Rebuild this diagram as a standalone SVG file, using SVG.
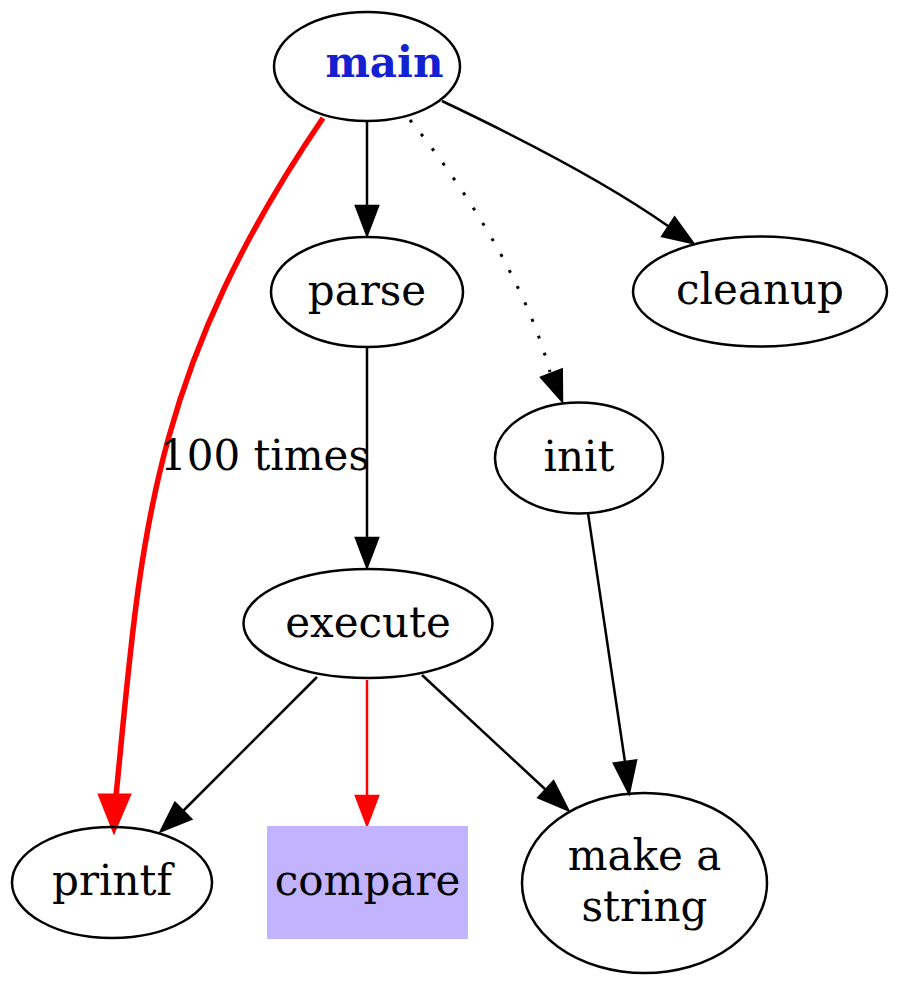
<svg xmlns="http://www.w3.org/2000/svg" width="900" height="986" viewBox="0 0 900 986">
<style>
.n{fill:none;stroke:#000;stroke-width:2.5}
.t{font-family:"DejaVu Serif",serif;font-size:42px;fill:#000;text-anchor:middle}
.e{fill:none;stroke:#000;stroke-width:2.5}
.a{fill:#000;stroke:#000;stroke-width:2.5}
</style>
<rect width="900" height="986" fill="#fff"/>
<g id="connectors">
<path class="e" d="M367,122 L367,206"/>
<polygon class="a" points="356,206 378,206 367,235"/>
<path class="e" d="M442,101 C520,138 610,185 668,226"/>
<polygon class="a" points="674.6,217.8 662.4,236.2 693,243"/>
<path d="M410,120 C445,163 480,215 505,262 C525,300 540,335 550,372" fill="none" stroke="#000" stroke-width="3" stroke-dasharray="3,15"/>
<polygon class="a" points="541.3,377.5 561.7,369.5 562,401"/>
<path d="M323,118 C146,378 141,546 116,796" fill="none" stroke="#f00" stroke-width="5.5"/>
<polygon points="101,796 128,796 114,829" fill="#f00" stroke="#f00" stroke-width="5"/>
<path class="e" d="M367,347 L367,538"/>
<polygon class="a" points="356,538 378,538 367,567"/>
<path class="e" d="M317,677 L183,811"/>
<polygon class="a" points="175,803 191,819 161,831"/>
<path d="M367,680 L367,796" fill="none" stroke="#f00" stroke-width="2.5"/>
<polygon points="356,796 378,796 367,825" fill="#f00" stroke="#f00" stroke-width="2.5"/>
<path class="e" d="M422,675 L546,790"/>
<polygon class="a" points="538.5,797.5 553.5,781.5 568,810"/>
<path class="e" d="M588,513 L625,762"/>
<polygon class="a" points="614,763.5 636,760.5 629,793"/>
<text class="t" x="265" y="470">100 times</text>
</g>
<g id="main">
<ellipse class="n" cx="367" cy="66.5" rx="93" ry="54.5"/>
<text x="384.5" y="77" style="font-family:'DejaVu Serif',serif;font-size:42px;font-weight:bold;fill:#1520d0;text-anchor:middle">main</text>
</g>
<g id="parse">
<ellipse class="n" cx="367" cy="292" rx="96" ry="55"/>
<text class="t" x="367" y="305">parse</text>
</g>
<g id="cleanup">
<ellipse class="n" cx="760" cy="291.5" rx="127" ry="55"/>
<text class="t" x="760" y="304">cleanup</text>
</g>
<g id="init">
<ellipse class="n" cx="579" cy="458" rx="84" ry="55.5"/>
<text class="t" x="579" y="471">init</text>
</g>
<g id="execute">
<ellipse class="n" cx="368" cy="623.5" rx="124.5" ry="54.5"/>
<text class="t" x="368" y="637">execute</text>
</g>
<g id="printf">
<ellipse class="n" cx="112" cy="882.5" rx="100" ry="55.5"/>
<text class="t" x="112" y="895">printf</text>
</g>
<g id="compare">
<rect x="267" y="826" width="201" height="113" fill="#c2b3ff"/>
<text class="t" x="367.5" y="895">compare</text>
</g>
<g id="make_a_string">
<ellipse class="n" cx="644.5" cy="883" rx="122.5" ry="90"/>
<text class="t" x="644.5" y="870">make a</text>
<text class="t" x="644.5" y="921">string</text>
</g>
</svg>
